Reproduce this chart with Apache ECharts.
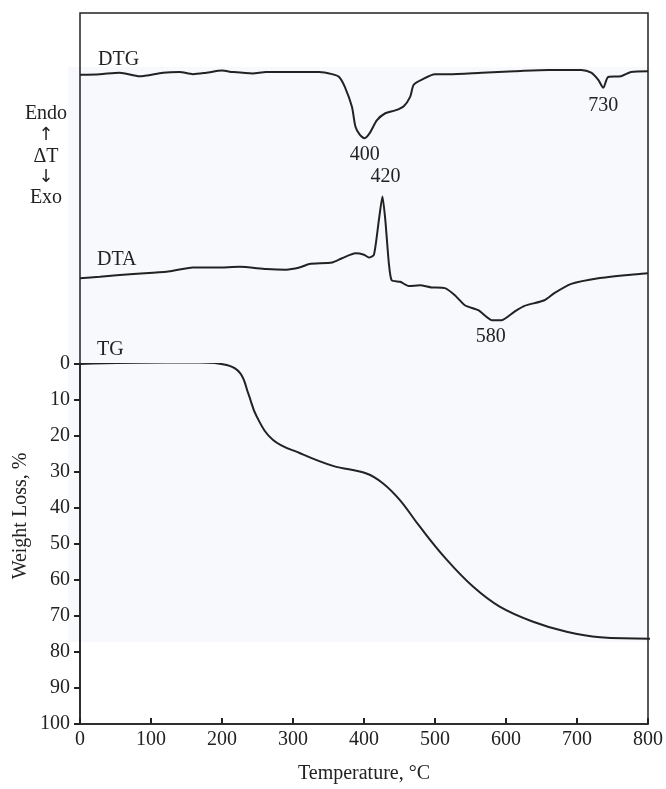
<!DOCTYPE html>
<html>
<head>
<meta charset="utf-8">
<script src="https://cdn.jsdelivr.net/npm/echarts@6/dist/echarts.min.js"></script>
<style>html,body{margin:0;padding:0;background:#fff}#c{width:666px;height:789px}</style>
</head>
<body>
<div id="c"></div>
<script>
// Temperature (°C) and signals
var dtgT = [0,28,56,84,117,140,159,178,200,215,243,262,299,337,355,365,373,383,388,394,401,408,418,430,444,456,465,470,481,500,519,566,612,660,706,720,730,737,744,762,776,800];
var dtgV = [91.3,91.4,91.6,91.1,91.6,91.7,91.4,91.6,91.9,91.7,91.5,91.7,91.7,91.7,91.4,91.0,89.6,86.8,84.0,82.9,82.4,83.1,84.9,85.9,86.3,86.9,88.2,89.9,90.6,91.4,91.4,91.6,91.8,92.0,92.0,91.6,90.6,89.5,91.0,91.1,91.7,91.8];

var dtaT = [0,28,75,122,159,192,225,262,290,309,323,355,369,388,400,407,414,421,426,430,435,439,451,463,479,495,514,528,542,561,580,594,612,626,654,668,692,730,776,800];
var dtaV = [62.7,62.9,63.3,63.6,64.2,64.2,64.3,64.0,63.9,64.2,64.7,64.9,65.5,66.2,66.0,65.6,66.0,70.9,74.2,70.9,64.8,62.4,62.2,61.6,61.7,61.4,61.3,60.3,58.9,58.2,56.8,56.8,58.0,58.8,59.6,60.6,61.9,62.7,63.2,63.4];

var tgT = [0,122,168,206,225,236,248,271,309,355,402,425,449,477,514,552,589,636,683,730,800];
var tgV = [0,-0.4,-0.4,0.3,2.6,8.1,14.6,21.1,24.8,28.3,30.4,33.1,37.8,45.2,54.2,61.9,67.4,71.6,74.4,75.9,76.3];

var xTicks = [0,100,200,300,400,500,600,700,800];
var yTicks = [0,10,20,30,40,50,60,70,80,90,100];

// peak annotations: [temperature, signal, text]
var dtgPeaks = [[401, 82.4, '400'], [737, 89.5, '730']];
var dtaPeaks = [[426, 74.2, '420'], [587, 56.8, '580']];

function zip(a, b) { return a.map(function (v, i) { return [v, b[i]]; }); }

var FONT = 'Liberation Serif';
var INK = '#222';

var chart = echarts.init(document.getElementById('c'), null, {renderer: 'canvas'});
chart.setOption({
  backgroundColor: '#fff',
  animation: false,
  textStyle: {fontFamily: FONT, color: INK},
  graphic: [
    {type: 'rect', z: -10, shape: {x: 68, y: 67, width: 582, height: 575}, style: {fill: '#f8f9fc'}, silent: true},
    {type: 'text', x: 98, y: 60, style: {text: 'DTG', font: '20px ' + FONT, fill: INK, textVerticalAlign: 'middle'}},
    {type: 'text', x: 97, y: 260, style: {text: 'DTA', font: '20px ' + FONT, fill: INK, textVerticalAlign: 'middle'}},
    {type: 'text', x: 97, y: 350, style: {text: 'TG', font: '20px ' + FONT, fill: INK, textVerticalAlign: 'middle'}},
    {type: 'text', x: 46, y: 114, style: {text: 'Endo', font: '20px ' + FONT, fill: INK, textAlign: 'center', textVerticalAlign: 'middle'}},
    {type: 'text', x: 46, y: 135, style: {text: '↑', font: '18px DejaVu Sans', fill: INK, textAlign: 'center', textVerticalAlign: 'middle'}},
    {type: 'text', x: 46, y: 157, style: {text: 'ΔT', font: '20px ' + FONT, fill: INK, textAlign: 'center', textVerticalAlign: 'middle'}},
    {type: 'text', x: 46, y: 177, style: {text: '↓', font: '18px DejaVu Sans', fill: INK, textAlign: 'center', textVerticalAlign: 'middle'}},
    {type: 'text', x: 46, y: 198, style: {text: 'Exo', font: '20px ' + FONT, fill: INK, textAlign: 'center', textVerticalAlign: 'middle'}},
    {type: 'text', x: 21, y: 516, rotation: Math.PI / 2, style: {text: 'Weight Loss, %', font: '20px ' + FONT, fill: INK, textAlign: 'center', textVerticalAlign: 'middle'}}
  ],
  grid: [
    {left: 80, right: 16, top: 13, bottom: 65, show: true, borderColor: INK, borderWidth: 1.5, backgroundColor: 'transparent'},
    {left: 80, right: 16, top: 364, bottom: 65, show: false}
  ],
  xAxis: [
    {
      gridIndex: 0, type: 'value', min: 0, max: 800, interval: 100,
      name: 'Temperature, °C', nameLocation: 'middle', nameGap: 40,
      nameTextStyle: {fontFamily: FONT, fontSize: 20, color: INK},
      axisLine: {show: true, onZero: false, lineStyle: {color: INK, width: 1.5}},
      axisTick: {show: true, inside: true, length: 6, lineStyle: {color: INK, width: 2}},
      axisLabel: {fontFamily: FONT, fontSize: 20, color: INK, margin: 6,
        formatter: function (v) { return xTicks.indexOf(v) >= 0 ? String(v) : ''; }},
      splitLine: {show: false}
    },
    {gridIndex: 1, type: 'value', min: 0, max: 800, show: false, splitLine: {show: false}}
  ],
  yAxis: [
    {
      gridIndex: 1, type: 'value', inverse: true, min: 0, max: 100, interval: 10,
      axisLine: {show: true, onZero: false, lineStyle: {color: INK, width: 1.5}},
      axisTick: {show: true, inside: false, length: 6, lineStyle: {color: INK, width: 2}},
      axisLabel: {fontFamily: FONT, fontSize: 20, color: INK, margin: 10,
        formatter: function (v) { return yTicks.indexOf(v) >= 0 ? String(v) : ''; }},
      splitLine: {show: false}
    },
    {gridIndex: 0, type: 'value', min: 0, max: 100, show: false, splitLine: {show: false}}
  ],
  series: [
    {
      name: 'DTG', type: 'line', xAxisIndex: 0, yAxisIndex: 1, data: zip(dtgT, dtgV),
      showSymbol: false, smooth: 0.25,
      lineStyle: {color: INK, width: 2},
      markPoint: {
        symbol: 'circle', symbolSize: 0,
        label: {show: true, fontFamily: FONT, fontSize: 20, color: INK, formatter: '{b}'},
        data: [
          {name: dtgPeaks[0][2], coord: [dtgPeaks[0][0], dtgPeaks[0][1]], label: {offset: [0, 17]}},
          {name: dtgPeaks[1][2], coord: [dtgPeaks[1][0], dtgPeaks[1][1]], label: {offset: [0, 18]}}
        ]
      }
    },
    {
      name: 'DTA', type: 'line', xAxisIndex: 0, yAxisIndex: 1, data: zip(dtaT, dtaV),
      showSymbol: false, smooth: 0.2,
      lineStyle: {color: INK, width: 2},
      markPoint: {
        symbol: 'circle', symbolSize: 0,
        label: {show: true, fontFamily: FONT, fontSize: 20, color: INK, formatter: '{b}'},
        data: [
          {name: dtaPeaks[0][2], coord: [dtaPeaks[0][0], dtaPeaks[0][1]], label: {offset: [3, -20]}},
          {name: dtaPeaks[1][2], coord: [dtaPeaks[1][0], dtaPeaks[1][1]], label: {offset: [-6, 17]}}
        ]
      }
    },
    {
      name: 'TG', type: 'line', xAxisIndex: 1, yAxisIndex: 0, data: zip(tgT, tgV),
      showSymbol: false, smooth: 0.4,
      lineStyle: {color: INK, width: 2}
    }
  ]
});
</script>
</body>
</html>
